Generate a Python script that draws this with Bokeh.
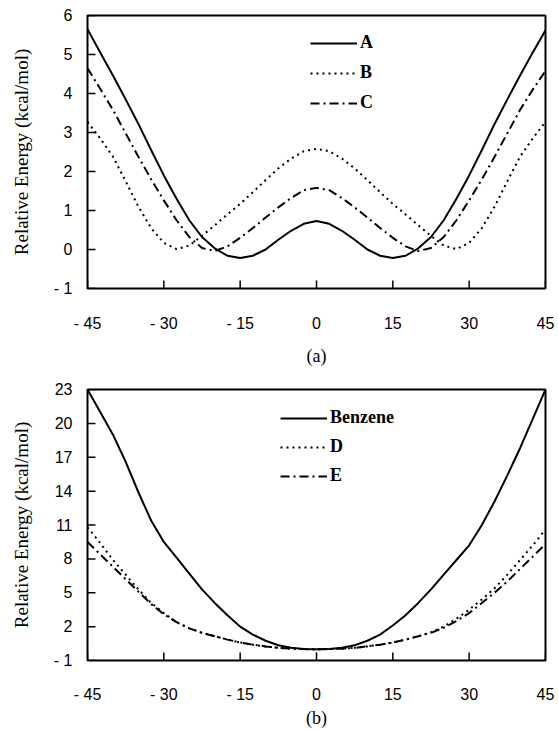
from bokeh.plotting import figure
from bokeh.models import FixedTicker, Legend, LegendItem, Range1d
from bokeh.layouts import column
from bokeh.embed import file_html
from bokeh.resources import INLINE

# Torsion angle (degrees)
angle = [-45, -42.5, -40, -37.5, -35, -32.5, -30, -27.5, -25, -22.5, -20, -17.5, -15, -12.5,
         -10, -7.5, -5, -2.5, 0, 2.5, 5, 7.5, 10, 12.5, 15, 17.5, 20, 22.5, 25, 27.5, 30,
         32.5, 35, 37.5, 40, 42.5, 45]

# Panel (a)
energy_A = [5.65, 5.05, 4.46, 3.85, 3.22, 2.55, 1.90, 1.30, 0.75, 0.32, 0.03, -0.16, -0.22, -0.16,
            0.00, 0.25, 0.48, 0.66, 0.73, 0.66, 0.48, 0.25, 0.00, -0.16, -0.22, -0.16, 0.03,
            0.32, 0.75, 1.30, 1.90, 2.55, 3.22, 3.85, 4.46, 5.05, 5.62]
energy_B = [3.27, 2.85, 2.38, 1.75, 1.10, 0.55, 0.17, 0.01, 0.10, 0.35, 0.62, 0.90, 1.17, 1.47,
            1.78, 2.08, 2.33, 2.52, 2.58, 2.52, 2.33, 2.08, 1.78, 1.47, 1.17, 0.90, 0.62,
            0.35, 0.10, 0.01, 0.17, 0.55, 1.10, 1.75, 2.38, 2.85, 3.27]
energy_C = [4.65, 4.12, 3.58, 2.98, 2.38, 1.80, 1.26, 0.75, 0.32, 0.04, -0.04, 0.08, 0.30, 0.55,
            0.82, 1.08, 1.32, 1.52, 1.58, 1.52, 1.32, 1.08, 0.82, 0.55, 0.30, 0.08, -0.04,
            0.04, 0.32, 0.75, 1.26, 1.80, 2.38, 2.98, 3.58, 4.10, 4.58]

# Panel (b)
energy_benzene = [23.0, 21.0, 19.0, 16.6, 13.9, 11.4, 9.5, 8.1, 6.7, 5.3, 4.1, 3.0, 2.0, 1.3,
                  0.75, 0.35, 0.12, 0.02, 0.0, 0.02, 0.12, 0.35, 0.75, 1.3, 2.1, 3.0, 4.1,
                  5.3, 6.6, 7.9, 9.2, 11.0, 13.1, 15.4, 17.8, 20.4, 23.0]
energy_D = [10.8, 9.4, 7.9, 6.6, 5.3, 4.1, 3.2, 2.4, 1.85, 1.45, 1.15, 0.85, 0.6, 0.4,
            0.25, 0.12, 0.05, 0.01, 0.0, 0.01, 0.05, 0.12, 0.25, 0.4, 0.6, 0.85, 1.15,
            1.5, 2.0, 2.7, 3.5, 4.4, 5.4, 6.6, 7.9, 9.2, 10.6]
energy_E = [9.5, 8.4, 7.3, 6.2, 5.1, 4.0, 3.1, 2.4, 1.85, 1.45, 1.15, 0.85, 0.6, 0.4,
            0.25, 0.12, 0.05, 0.01, 0.0, 0.01, 0.05, 0.12, 0.25, 0.4, 0.6, 0.85, 1.15,
            1.45, 1.9, 2.5, 3.2, 4.1, 5.0, 6.0, 7.1, 8.2, 9.3]

x_ticks = [-45, -30, -15, 0, 15, 30, 45]
x_tick_labels = ["- 45", "- 30", "- 15", "0", "15", "30", "45"]
ya_ticks = [-1, 0, 1, 2, 3, 4, 5, 6]
ya_tick_labels = ["- 1", "0", "1", "2", "3", "4", "5", "6"]
yb_ticks = [-1, 2, 5, 8, 11, 14, 17, 20, 23]
yb_tick_labels = ["- 1", "2", "5", "8", "11", "14", "17", "20", "23"]

SANS = "Liberation Sans"
SERIF = "Liberation Serif"
TICK_PX = 8          # inward tick length in pixels (1 px hidden under the frame)
FRAME_W = 458        # frame width in pixels


def make_panel(height, top, bottom, yr, yticks, ylabels, panel_label, tick_standoff, label_standoff):
    p = figure(width=558, height=height, output_backend="svg", toolbar_location=None,
               x_range=Range1d(-45, 45), y_range=Range1d(*yr),
               min_border_left=87, min_border_right=13, min_border_top=top,
               min_border_bottom=bottom)
    p.grid.visible = False
    p.outline_line_color = "black"
    p.outline_line_width = 2
    p.background_fill_color = "white"
    p.border_fill_color = "white"

    p.xaxis.ticker = FixedTicker(ticks=x_ticks)
    p.xaxis.major_label_overrides = dict(zip(x_ticks, x_tick_labels))
    p.yaxis.ticker = FixedTicker(ticks=yticks)
    p.yaxis.major_label_overrides = dict(zip(yticks, ylabels))
    for ax in (p.xaxis, p.yaxis):
        ax.axis_line_color = None
        ax.major_tick_in = 0
        ax.major_tick_out = 0
        ax.major_tick_line_color = None
        ax.minor_tick_line_color = None
        ax.major_label_text_font = SANS
        ax.major_label_text_font_size = "16px"
        ax.major_label_text_color = "black"
        ax.axis_label_text_font = SERIF
        ax.axis_label_text_font_style = "normal"
        ax.axis_label_text_color = "black"
    p.xaxis.major_label_standoff = tick_standoff
    p.xaxis.axis_label = panel_label
    p.xaxis.axis_label_text_font_size = "18px"
    p.xaxis.axis_label_standoff = label_standoff
    p.yaxis.major_label_standoff = 15
    p.yaxis.axis_label = "Relative Energy (kcal/mol)"
    p.yaxis.axis_label_text_font_size = "19px"
    p.yaxis.axis_label_standoff = 19

    # inward tick marks drawn at the tick values
    frame_h = height - top - bottom
    dy = (yr[1] - yr[0]) * TICK_PX / frame_h
    dx = 90 * TICK_PX / FRAME_W
    p.segment(x0=x_ticks, y0=[yr[0]] * len(x_ticks), x1=x_ticks,
              y1=[yr[0] + dy] * len(x_ticks), line_color="black", line_width=1.5)
    p.segment(x0=[-45] * len(yticks), y0=yticks, x1=[-45 + dx] * len(yticks), y1=yticks,
              line_color="black", line_width=1.5)
    return p


def style_legend(p, items, loc, spacing):
    leg = Legend(items=items, location=loc, glyph_width=47, glyph_height=20, label_height=20,
                 spacing=spacing, padding=0, margin=0, border_line_alpha=0,
                 background_fill_alpha=0, label_text_font=SERIF, label_text_font_style="bold",
                 label_text_font_size="18px", label_standoff=3, label_text_color="black")
    p.add_layout(leg)


# ---- panel (a)
pa = make_panel(370, 15, 82, (-1, 6), ya_ticks, ya_tick_labels, "(a)", 26, 11)
ra = pa.line(angle, energy_A, line_color="black", line_width=2)
rb = pa.line(angle, energy_B, line_color="black", line_width=2, line_dash="2 4")
rc = pa.line(angle, energy_C, line_color="black", line_width=2, line_dash="9 4 2 4")
style_legend(pa, [LegendItem(label="A", renderers=[ra]),
                  LegendItem(label="B", renderers=[rb]),
                  LegendItem(label="C", renderers=[rc])], (223, 175), 9)

# ---- panel (b)
pb = make_panel(360, 19, 70, (-1, 23), yb_ticks, yb_tick_labels, "(b)", 25, 2)
r1 = pb.line(angle, energy_benzene, line_color="black", line_width=2)
r2 = pb.line(angle, energy_D, line_color="black", line_width=2, line_dash="2 4")
r3 = pb.line(angle, energy_E, line_color="black", line_width=2, line_dash="9 4 2 4")
style_legend(pb, [LegendItem(label="Benzene", renderers=[r1]),
                  LegendItem(label="D", renderers=[r2]),
                  LegendItem(label="E", renderers=[r3])], (193, 174), 8)

layout = column(pa, pb, spacing=0)
open("out.html", "w").write(file_html(layout, INLINE))
